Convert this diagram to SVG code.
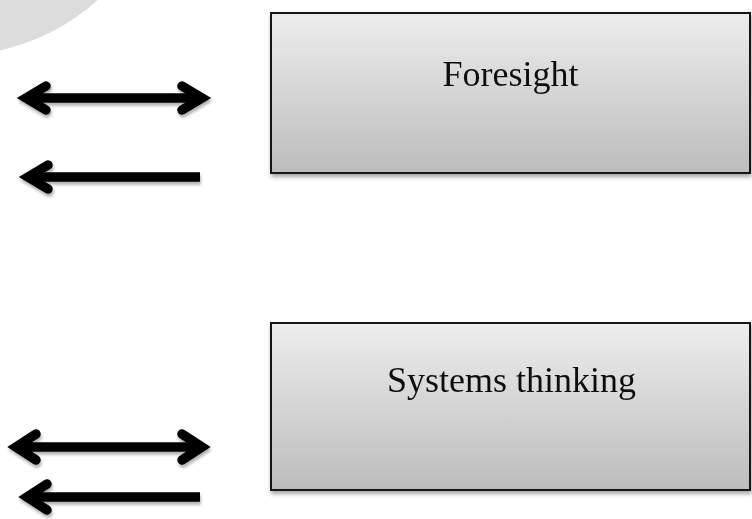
<svg xmlns="http://www.w3.org/2000/svg" width="752" height="519" viewBox="0 0 752 519">
  <defs>
    <linearGradient id="boxGrad" x1="0" y1="0" x2="0" y2="1">
      <stop offset="0" stop-color="#ededed"/>
      <stop offset="1" stop-color="#bcbcbc"/>
    </linearGradient>
    <filter id="shadow" x="-10%" y="-10%" width="120%" height="130%">
      <feDropShadow dx="1" dy="3" stdDeviation="2" flood-color="#000" flood-opacity="0.35"/>
    </filter>
    <filter id="arrowShadow" x="-10%" y="-50%" width="120%" height="200%">
      <feDropShadow dx="1" dy="3" stdDeviation="1.5" flood-color="#000" flood-opacity="0.3"/>
    </filter>
  </defs>
  <style>
    .box { fill: url(#boxGrad); stroke: #151515; stroke-width: 2; }
    .label { font-family: "Liberation Serif", "Times New Roman", serif; font-size: 36px; fill: #111; text-anchor: middle; }
    .shaft { stroke: #000; stroke-width: 9.5; stroke-linecap: butt; fill: none; }
    .head { stroke: #000; stroke-width: 9.5; stroke-linecap: round; stroke-linejoin: miter; stroke-miterlimit: 10; fill: none; }
  </style>
  <rect width="752" height="519" fill="#ffffff"/>
  <circle cx="-45" cy="-158" r="213" fill="#dcdcdc"/>

  <g id="node-foresight" filter="url(#shadow)">
    <rect class="box" x="271" y="13" width="479" height="160"/>
    <text class="label" x="510.5" y="86">Foresight</text>
  </g>

  <g id="node-systems-thinking" filter="url(#shadow)">
    <rect class="box" x="271" y="323" width="479" height="167"/>
    <text class="label" x="511.5" y="392">Systems thinking</text>
  </g>

  <g id="connectors" filter="url(#arrowShadow)">
    <g id="arrow-top-double">
      <line class="shaft" x1="26" y1="98" x2="202" y2="98"/>
      <path class="head" d="M46,86 L26,98 L46,110"/>
      <path class="head" d="M182,86 L202,98 L182,110"/>
    </g>
    <g id="arrow-top-single">
      <line class="shaft" x1="28" y1="177" x2="200" y2="177"/>
      <path class="head" d="M48,165 L28,177 L48,189"/>
    </g>
    <g id="arrow-bottom-double">
      <line class="shaft" x1="16" y1="447" x2="202" y2="447"/>
      <path class="head" d="M36,434 L16,447 L36,460"/>
      <path class="head" d="M182,434 L202,447 L182,460"/>
    </g>
    <g id="arrow-bottom-single">
      <line class="shaft" x1="27" y1="497" x2="200" y2="497"/>
      <path class="head" d="M47,484 L27,497 L47,510"/>
    </g>
  </g>
</svg>
